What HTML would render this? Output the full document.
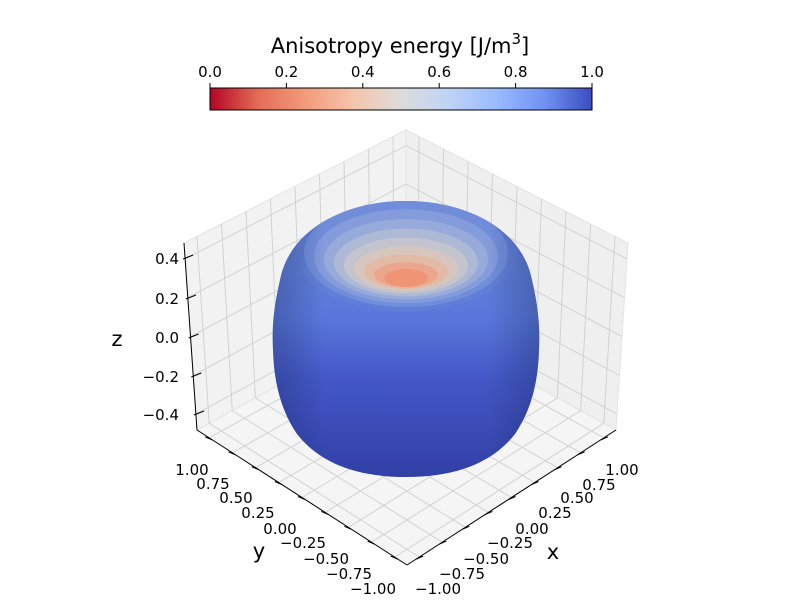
<!DOCTYPE html>
<html><head><meta charset="utf-8"><style>
html,body{margin:0;padding:0;background:#fff}
svg{display:block}
text{font-family:"DejaVu Sans","Liberation Sans",sans-serif;fill:#000}
</style></head><body>
<svg id="s" width="800" height="600" viewBox="0 0 800 600" xmlns="http://www.w3.org/2000/svg">
<defs>
<linearGradient id="cb" x1="0" x2="1" y1="0" y2="0">
<stop offset="0" stop-color="#b40426"/><stop offset="0.125" stop-color="#e36c55"/>
<stop offset="0.25" stop-color="#f49a7b"/><stop offset="0.375" stop-color="#f5c4ac"/>
<stop offset="0.5" stop-color="#dddcdc"/><stop offset="0.625" stop-color="#bfd3f6"/>
<stop offset="0.75" stop-color="#9abbff"/><stop offset="0.875" stop-color="#7092f3"/>
<stop offset="1" stop-color="#3b4cc0"/></linearGradient>
<linearGradient id="body" x1="0" x2="0" y1="201" y2="477" gradientUnits="userSpaceOnUse">
<stop offset="0" stop-color="#5570c8"/><stop offset="0.25" stop-color="#5f7ed8"/>
<stop offset="0.42" stop-color="#5a78dc"/><stop offset="0.65" stop-color="#4357c6"/>
<stop offset="1" stop-color="#3140a6"/></linearGradient>
<linearGradient id="side" x1="0" x2="1" y1="0" y2="0">
<stop offset="0" stop-color="#10204a" stop-opacity="0.3"/><stop offset="0.2" stop-color="#10204a" stop-opacity="0"/>
<stop offset="0.8" stop-color="#10204a" stop-opacity="0"/><stop offset="1" stop-color="#10204a" stop-opacity="0.3"/></linearGradient>
<clipPath id="cp"><path d="M406 201 C465 201 522 228 532 280 C539 310 540 330 539 350 C538 385 530 412 515 434 C490 466 450 477 406 477 C362 477 322 466 297 434 C282 412 274 385 273 350 C272 330 273 310 280 280 C290 228 347 201 406 201Z"/></clipPath>
</defs>
<g id="panes"></g>
<g clip-path="url(#cp)" id="sph">
<rect x="260" y="195" width="290" height="290" fill="url(#body)"/>
</g>
<rect x="270" y="195" width="272" height="290" fill="url(#side)" clip-path="url(#cp)"/>
<g id="axes"></g>
<text x="400" y="53" font-size="21" text-anchor="middle">Anisotropy energy [J/m<tspan dy="-9" font-size="15">3</tspan><tspan dy="9">]</tspan></text>
<rect x="210" y="88" width="382" height="22" fill="url(#cb)" stroke="#000" stroke-width="1"/>
<g id="cbt"></g>
<text x="117" y="346" font-size="21" text-anchor="middle">z</text>
<text x="259" y="558" font-size="21" text-anchor="middle">y</text>
<text x="553" y="559" font-size="21" text-anchor="middle">x</text>
</svg>
<script>
const NS="http://www.w3.org/2000/svg";
function el(p,t,a,txt){const e=document.createElementNS(NS,t);for(const k in a)e.setAttribute(k,a[k]);if(txt!=null)e.textContent=txt;p.appendChild(e);return e;}
const panes=document.getElementById('panes'),axes=document.getElementById('axes');
function lerp(a,b,t){return[a[0]+(b[0]-a[0])*t,a[1]+(b[1]-a[1])*t];}
const TB=[406,130],TL=[184,243],BL=[197,430],BB=[406,315],TR=[628,243],BR=[616,430],F=[407,565];
function quad(q,fill){el(panes,'polygon',{points:q.map(p=>p.join(',')).join(' '),fill:fill,stroke:'#e4e4e4','stroke-width':1});}
quad([TL,TB,BB,BL],'#f2f2f2');quad([TB,TR,BR,BB],'#efefef');quad([BL,BB,BR,F],'#f5f5f5');
const fr=[];for(let i=0;i<9;i++)fr.push((0.132+i*0.25)/2.264);
function ln(a,b,c,w){el(panes,'line',{x1:a[0],y1:a[1],x2:b[0],y2:b[1],stroke:c||'#d2d2d2','stroke-width':w||1});}
fr.forEach(f=>ln(lerp(TL,TB,f),lerp(BL,BB,f)));
[0.085,0.292,0.5,0.708,0.915].forEach(f=>ln(lerp(TL,BL,f),lerp(TB,BB,f)));
fr.forEach(f=>ln(lerp(TB,TR,f),lerp(BB,BR,f)));
[0.085,0.292,0.5,0.708,0.915].forEach(f=>ln(lerp(TB,BB,f),lerp(TR,BR,f)));
fr.forEach(f=>ln(lerp(BL,F,f),lerp(BB,BR,f)));
fr.forEach(f=>ln(lerp(F,BR,f),lerp(BL,BB,f)));
const sph=document.getElementById('sph');
const cols=['#6682d8','#7490da','#849cdb','#98aad9','#aeb9d6','#c4c4cf','#d6c6bd','#e2baa6','#eaa78e','#f09476'];
for(let i=0;i<cols.length;i++){const rx=112-10*i,cy=250+i*3.1,ry=Math.max(9,rx*(0.55-0.02*i));
el(sph,'ellipse',{cx:406,cy:cy,rx:rx,ry:ry,fill:cols[i],opacity:i==0?0.5:(i==1?0.85:1)});}
function al(a,b){el(axes,'line',{x1:a[0],y1:a[1],x2:b[0],y2:b[1],stroke:'#000','stroke-width':1});}
al(TL,BL);al(BL,F);al(F,BR);
[259,299,338,377,415].forEach((y,i)=>{const x=184+(y-243)*13/187;al([x-2,y],[x+8,y-4]);
el(axes,'text',{x:179,y:y+5,'font-size':15,'text-anchor':'end'},['0.4','0.2','0.0','\u22120.2','\u22120.4'][i]);});
const lab=['1.00','0.75','0.50','0.25','0.00','\u22120.25','\u22120.50','\u22120.75','\u22121.00'];
const yl=[[192,470],[213,484],[236,498],[258,513],[280,529],[303,543],[326,559],[349,574],[373,589]];
const xl=[[622,470],[599,485],[577,498],[555,513],[532,529],[510,543],[486,559],[462,574],[438,589]];
fr.forEach((f,i)=>{const p=lerp(BL,F,f);al([p[0]-4,p[1]-1],[p[0]+3,p[1]+2]);
el(axes,'text',{x:yl[i][0],y:yl[i][1]+5,'font-size':15,'text-anchor':'middle'},lab[i]);
const q=lerp(BR,F,f);al([q[0]+4,q[1]-1],[q[0]-3,q[1]+2]);
el(axes,'text',{x:xl[i][0],y:xl[i][1]+5,'font-size':15,'text-anchor':'middle'},lab[i]);});
const cbt=document.getElementById('cbt');
['0.0','0.2','0.4','0.6','0.8','1.0'].forEach((t,i)=>{const x=210+i*76.4;
el(cbt,'line',{x1:x,y1:88,x2:x,y2:83,stroke:'#000','stroke-width':1});
el(cbt,'text',{x:x,y:77,'font-size':15,'text-anchor':'middle'},t);});
</script>
</body></html>
